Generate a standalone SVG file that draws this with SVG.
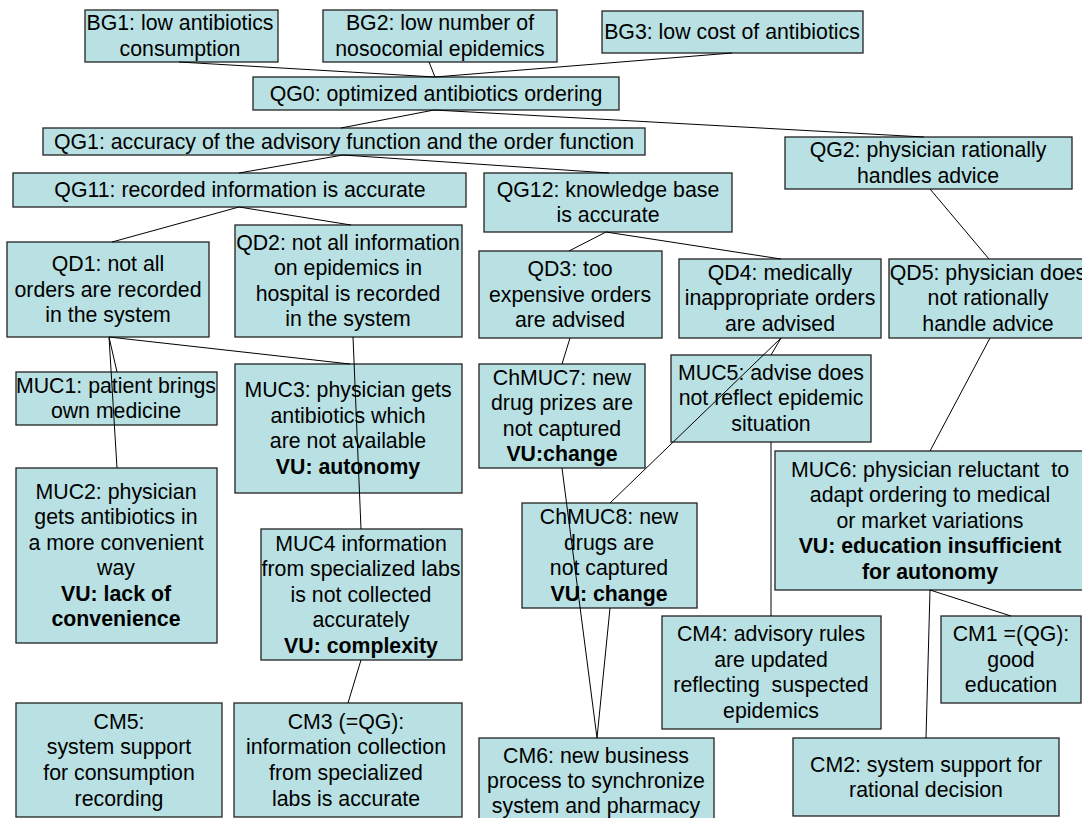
<svg xmlns="http://www.w3.org/2000/svg" width="1082" height="818" viewBox="0 0 1082 818">
<style>
.box{fill:#b9e0e2;stroke:#222;stroke-width:1.3}
text{font-family:"Liberation Sans",Arial,sans-serif;font-size:21.3px;fill:#000;text-anchor:middle;white-space:pre}
.b{font-weight:bold}
.c line{stroke:#000;stroke-width:1}
</style>
<rect width="1082" height="818" fill="#fff"/>
<g id="BG1"><rect class="box" x="85" y="10" width="193" height="52"/><text><tspan x="180" y="30">BG1: low antibiotics</tspan><tspan x="180" y="56">consumption</tspan></text></g>
<g id="BG2"><rect class="box" x="323" y="10" width="234" height="52"/><text><tspan x="440" y="30">BG2: low number of</tspan><tspan x="440" y="56">nosocomial epidemics</tspan></text></g>
<g id="BG3"><rect class="box" x="602" y="11" width="261" height="42"/><text><tspan x="732" y="39">BG3: low cost of antibiotics</tspan></text></g>
<g id="QG0"><rect class="box" x="253" y="77" width="366" height="33"/><text><tspan x="436" y="101">QG0: optimized antibiotics ordering</tspan></text></g>
<g id="QG1"><rect class="box" x="43" y="128" width="602" height="27"/><text><tspan x="344" y="149">QG1: accuracy of the advisory function and the order function</tspan></text></g>
<g id="QG11"><rect class="box" x="13" y="173" width="453" height="34"/><text><tspan x="240" y="197">QG11: recorded information is accurate</tspan></text></g>
<g id="QG12"><rect class="box" x="484" y="173" width="248" height="59"/><text><tspan x="608" y="197">QG12: knowledge base</tspan><tspan x="608" y="222">is accurate</tspan></text></g>
<g id="QG2"><rect class="box" x="785" y="137" width="287" height="52"/><text><tspan x="928" y="157">QG2: physician rationally</tspan><tspan x="928" y="183">handles advice</tspan></text></g>
<g id="QD1"><rect class="box" x="7" y="242" width="202" height="95"/><text><tspan x="108" y="271">QD1: not all</tspan><tspan x="108" y="297">orders are recorded</tspan><tspan x="108" y="322">in the system</tspan></text></g>
<g id="QD2"><rect class="box" x="235" y="225" width="227" height="112"/><text><tspan x="348" y="250">QD2: not all information</tspan><tspan x="348" y="275">on epidemics in</tspan><tspan x="348" y="301">hospital is recorded</tspan><tspan x="348" y="326">in the system</tspan></text></g>
<g id="QD3"><rect class="box" x="479" y="251" width="183" height="87"/><text><tspan x="570" y="276">QD3: too</tspan><tspan x="570" y="302">expensive orders</tspan><tspan x="570" y="327">are advised</tspan></text></g>
<g id="QD4"><rect class="box" x="679" y="259" width="202" height="79"/><text><tspan x="780" y="280">QD4: medically</tspan><tspan x="780" y="305">inappropriate orders</tspan><tspan x="780" y="331">are advised</tspan></text></g>
<g id="QD5"><rect class="box" x="889" y="259" width="200" height="79"/><text><tspan x="988" y="280">QD5: physician does</tspan><tspan x="988" y="305">not rationally</tspan><tspan x="988" y="331">handle advice</tspan></text></g>
<g id="MUC1"><rect class="box" x="16" y="372" width="201" height="53"/><text><tspan x="116" y="393">MUC1: patient brings</tspan><tspan x="116" y="418">own medicine</tspan></text></g>
<g id="MUC3"><rect class="box" x="235" y="364" width="227" height="129"/><text><tspan x="348" y="397">MUC3: physician gets</tspan><tspan x="348" y="423">antibiotics which</tspan><tspan x="348" y="448">are not available</tspan><tspan class="b" x="348" y="474">VU: autonomy</tspan></text></g>
<g id="ChMUC7"><rect class="box" x="479" y="364" width="166" height="104"/><text><tspan x="562" y="385">ChMUC7: new</tspan><tspan x="562" y="410">drug prizes are</tspan><tspan x="562" y="436">not captured</tspan><tspan class="b" x="562" y="461">VU:change</tspan></text></g>
<g id="MUC5"><rect class="box" x="671" y="355" width="200" height="87"/><text><tspan x="771" y="380">MUC5: advise does</tspan><tspan x="771" y="405">not reflect epidemic</tspan><tspan x="771" y="431">situation</tspan></text></g>
<g id="MUC2"><rect class="box" x="16" y="468" width="201" height="175"/><text><tspan x="116" y="499">MUC2: physician</tspan><tspan x="116" y="524">gets antibiotics in</tspan><tspan x="116" y="550">a more convenient</tspan><tspan x="116" y="575">way</tspan><tspan class="b" x="116" y="601">VU: lack of</tspan><tspan class="b" x="116" y="626">convenience</tspan></text></g>
<g id="MUC4"><rect class="box" x="261" y="529" width="201" height="131"/><text><tspan x="361" y="551">MUC4 information</tspan><tspan x="361" y="576">from specialized labs</tspan><tspan x="361" y="602">is not collected</tspan><tspan x="361" y="627">accurately</tspan><tspan class="b" x="361" y="653">VU: complexity</tspan></text></g>
<g id="ChMUC8"><rect class="box" x="522" y="503" width="175" height="105"/><text><tspan x="609" y="524">ChMUC8: new</tspan><tspan x="609" y="550">drugs are</tspan><tspan x="609" y="575">not captured</tspan><tspan class="b" x="609" y="601">VU: change</tspan></text></g>
<g id="MUC6"><rect class="box" x="775" y="451" width="315" height="139"/><text><tspan x="930" y="477">MUC6: physician reluctant  to</tspan><tspan x="930" y="502">adapt ordering to medical</tspan><tspan x="930" y="528">or market variations</tspan><tspan class="b" x="930" y="553">VU: education insufficient</tspan><tspan class="b" x="930" y="579">for autonomy</tspan></text></g>
<g id="CM4"><rect class="box" x="662" y="616" width="219" height="113"/><text><tspan x="771" y="641">CM4: advisory rules</tspan><tspan x="771" y="667">are updated</tspan><tspan x="771" y="692">reflecting  suspected</tspan><tspan x="771" y="718">epidemics</tspan></text></g>
<g id="CM1"><rect class="box" x="941" y="616" width="140" height="87"/><text><tspan x="1011" y="641">CM1 =(QG):</tspan><tspan x="1011" y="667">good</tspan><tspan x="1011" y="692">education</tspan></text></g>
<g id="CM5"><rect class="box" x="16" y="703" width="206" height="114"/><text><tspan x="119" y="729">CM5:</tspan><tspan x="119" y="754">system support</tspan><tspan x="119" y="780">for consumption</tspan><tspan x="119" y="806">recording</tspan></text></g>
<g id="CM3"><rect class="box" x="234" y="703" width="228" height="114"/><text><tspan x="346" y="729">CM3 (=QG):</tspan><tspan x="346" y="754">information collection</tspan><tspan x="346" y="780">from specialized</tspan><tspan x="346" y="806">labs is accurate</tspan></text></g>
<g id="CM6"><rect class="box" x="479" y="738" width="235" height="95"/><text><tspan x="596" y="763">CM6: new business</tspan><tspan x="596" y="788">process to synchronize</tspan><tspan x="596" y="813">system and pharmacy</tspan></text></g>
<g id="CM2"><rect class="box" x="793" y="738" width="266" height="78"/><text><tspan x="926" y="772">CM2: system support for</tspan><tspan x="926" y="797">rational decision</tspan></text></g>
<g id="connectors" class="c">
<line x1="179" y1="62" x2="435" y2="77"/>
<line x1="429" y1="62" x2="435" y2="77"/>
<line x1="732" y1="53" x2="435" y2="77"/>
<line x1="434" y1="110" x2="341" y2="128"/>
<line x1="434" y1="110" x2="924" y2="137"/>
<line x1="343" y1="155" x2="239" y2="173"/>
<line x1="343" y1="155" x2="609" y2="173"/>
<line x1="239" y1="207" x2="112" y2="242"/>
<line x1="239" y1="207" x2="351" y2="225"/>
<line x1="606" y1="232" x2="569" y2="251"/>
<line x1="606" y1="232" x2="781" y2="259"/>
<line x1="930" y1="189" x2="989" y2="259"/>
<line x1="109" y1="337" x2="117" y2="372"/>
<line x1="109" y1="337" x2="117" y2="468"/>
<line x1="109" y1="337" x2="350" y2="364"/>
<line x1="353" y1="337" x2="361" y2="529"/>
<line x1="570" y1="338" x2="562" y2="364"/>
<line x1="781" y1="338" x2="771" y2="355"/>
<line x1="781" y1="338" x2="610" y2="503"/>
<line x1="990" y1="338" x2="930" y2="451"/>
<line x1="562" y1="468" x2="597" y2="738"/>
<line x1="610" y1="608" x2="597" y2="738"/>
<line x1="771" y1="442" x2="771" y2="616"/>
<line x1="930" y1="590" x2="1011" y2="616"/>
<line x1="930" y1="590" x2="926" y2="738"/>
<line x1="361" y1="660" x2="348" y2="703"/>
</g>
</svg>
